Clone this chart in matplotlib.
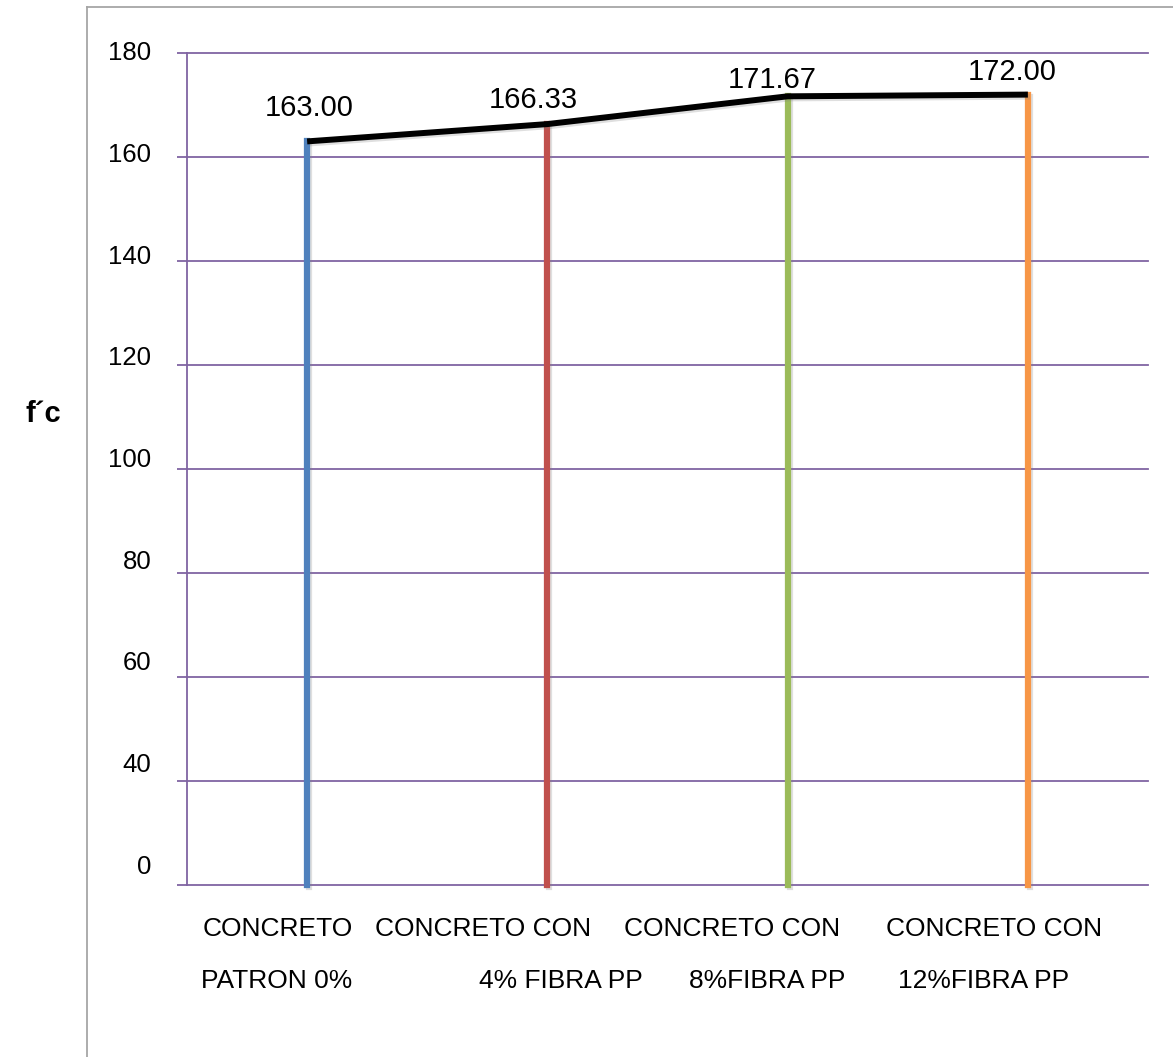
import matplotlib
matplotlib.use("Agg")
import matplotlib.pyplot as plt
import matplotlib.patheffects as pe
from matplotlib.lines import Line2D
from matplotlib.transforms import ScaledTranslation, blended_transform_factory

# Compressive strength f'c for each mix
line1_labels = ["CONCRETO", "CONCRETO CON", "CONCRETO CON", "CONCRETO CON"]
line2_labels = ["PATRON 0%", "4% FIBRA PP", "8%FIBRA PP", "12%FIBRA PP"]
fc_values = [163.00, 166.33, 171.67, 172.00]
value_texts = ["163.00", "166.33", "171.67", "172.00"]
ytick_values = [20, 40, 60, 80, 100, 120, 140, 160, 180]
ytick_labels = ["0", "40", "60", "80", "100", "120", "140", "160", "180"]

stem_colors = ["#4F81BD", "#C0504D", "#9BBB59", "#F79646"]
grid_color = "#8064A2"

plt.rcParams["font.family"] = ["Liberation Sans", "DejaVu Sans"]

W, H, DPI = 1173, 1057, 100
fig = plt.figure(figsize=(W / DPI, H / DPI), dpi=DPI)
fig.patch.set_facecolor("white")

ax = fig.add_axes([187 / W, 1 - 885 / H, (1148 - 187) / W, (885 - 53) / H])
ax.set_xlim(-0.5, len(fc_values) - 0.5)
ax.set_ylim(ytick_values[0], ytick_values[-1])

# horizontal grid
ax.set_yticks(ytick_values)
ax.set_yticklabels(ytick_labels, fontsize=18.5)
ax.yaxis.grid(True, color=grid_color, linewidth=1.3)
for gl in ax.get_ygridlines():
    gl.set_clip_on(False)
ax.tick_params(axis="y", direction="out", length=7.2, width=1.3,
               color=grid_color, pad=18.5)
ax.tick_params(axis="x", length=0, labelbottom=False)
for side in ["top", "right", "bottom"]:
    ax.spines[side].set_visible(False)
ax.spines["left"].set_color(grid_color)
ax.spines["left"].set_linewidth(1.3)
ax.set_axisbelow(True)

# tick labels sit progressively higher towards the bottom
n = len(ytick_values)
for i, lab in enumerate(ax.get_yticklabels()):
    dy_px = 2 + (n - 1 - i) / (n - 1) * 19
    lab.set_transform(lab.get_transform() +
                      ScaledTranslation(0, dy_px / DPI, fig.dpi_scale_trans))

xs = list(range(len(fc_values)))
shadow = [pe.SimpleLineShadow(offset=(1.5, -1.5), alpha=0.25, shadow_color="gray"),
          pe.Normal()]

# vertical stems
for x, v, c in zip(xs, fc_values, stem_colors):
    ax.plot([x, x], [ytick_values[0], v], color=c, linewidth=4.5,
            solid_capstyle="projecting", clip_on=False, zorder=3,
            path_effects=shadow)

# connecting line across the tops
ax.plot(xs, fc_values, color="black", linewidth=4.3, solid_capstyle="butt",
        solid_joinstyle="round", zorder=4, clip_on=False, path_effects=shadow)

# value labels
label_offsets = [(1.5, 24), (-10, 17), (-11, 12), (-11, 16)]
for x, v, t, (dx, dy) in zip(xs, fc_values, value_texts, label_offsets):
    ax.annotate(t, xy=(x, v), xytext=(dx, dy), textcoords="offset points",
                ha="center", va="center", fontsize=21, zorder=5)

# two-line category captions
trans = blended_transform_factory(ax.transData, ax.transAxes)
line1_dx = [-21, -46, -40, -24]
line2_dx = [-22, 10, -15, -32]
for x, t1, t2, d1, d2 in zip(xs, line1_labels, line2_labels, line1_dx, line2_dx):
    ax.annotate(t1, xy=(x, 0), xycoords=trans, xytext=(d1, -31.7),
                textcoords="offset points", ha="center", va="center",
                fontsize=19, annotation_clip=False)
    ax.annotate(t2, xy=(x, 0), xycoords=trans, xytext=(d2, -69),
                textcoords="offset points", ha="center", va="center",
                fontsize=19, annotation_clip=False)

# axis title
fig.text(25 / W, 1 - 422 / H, "f´c", fontsize=21, fontweight="bold",
         ha="left", va="baseline")

# outer frame (top and left edges)
fig.add_artist(Line2D([87 / W, 1.0], [1 - 7 / H, 1 - 7 / H],
                      transform=fig.transFigure, color="#A6A6A6", linewidth=1.3))
fig.add_artist(Line2D([87 / W, 87 / W], [0.0, 1 - 7 / H],
                      transform=fig.transFigure, color="#A6A6A6", linewidth=1.3))

fig.savefig("out.png", dpi=DPI)
